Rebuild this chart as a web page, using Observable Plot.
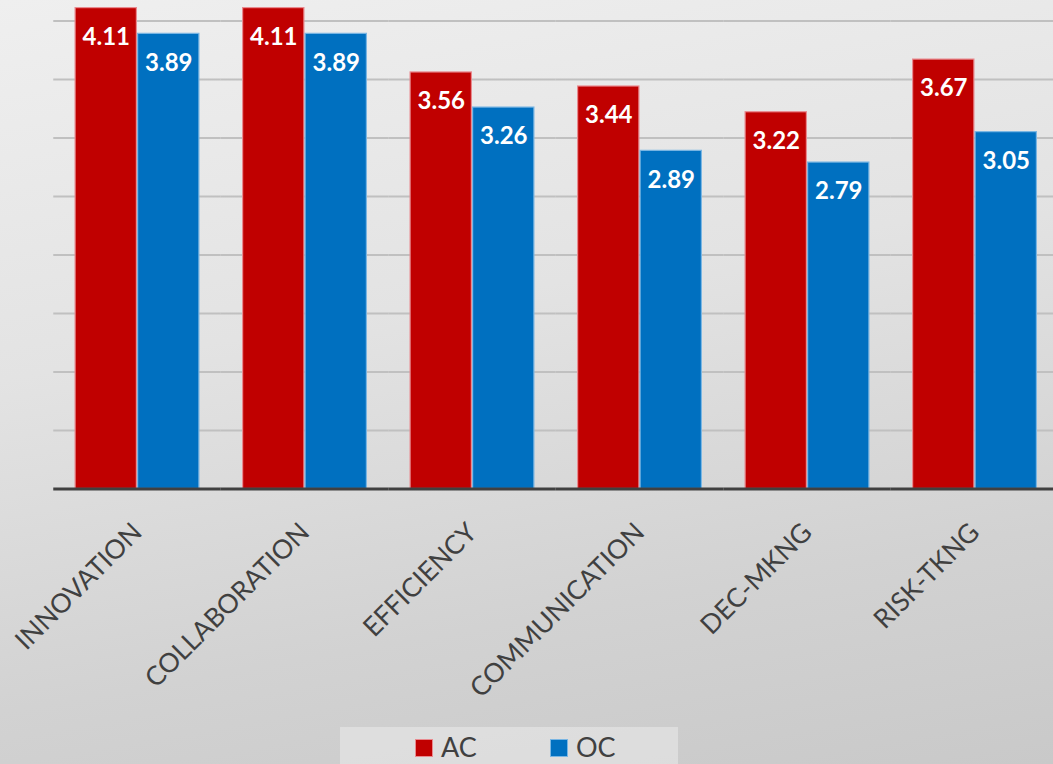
<!DOCTYPE html>
<html>
<head>
<meta charset="utf-8">
<script src="https://cdn.jsdelivr.net/npm/d3@7"></script>
<script src="https://cdn.jsdelivr.net/npm/@observablehq/plot@0.6"></script>
<style>
  html, body { margin: 0; padding: 0; overflow: hidden; }
  body {
    width: 1053px; height: 764px; position: relative;
    background: linear-gradient(170deg, #efefef 0%, #e3e3e3 40%, #d2d2d2 75%, #c9c9c9 100%);
    font-family: Lato, "Open Sans", sans-serif;
  }
  #chart { width: 1053px; overflow: hidden; }
  #chart svg { display: block; background: transparent; max-width: none !important; }
  #legend {
    position: absolute; left: 340px; top: 727px; width: 338px; height: 40px;
    background: rgba(235, 235, 235, 0.55);
  }
  .item { position: absolute; top: 0; height: 40px; display: flex; align-items: flex-start; }
  .sw { width: 16px; height: 16px; margin-top: 12px; border: 1px solid; }
  .lbl { font-size: 27px; color: #404040; margin-left: 8px; line-height: 40px; }
</style>
</head>
<body>
<div id="chart"></div>
<div id="legend"></div>
<script>
// Survey scores by dimension, two groups
const categories = ["INNOVATION", "COLLABORATION", "EFFICIENCY", "COMMUNICATION", "DEC-MKNG", "RISK-TKNG"];
const series = ["AC", "OC"];
const acValues = [4.11, 4.11, 3.56, 3.44, 3.22, 3.67];
const ocValues = [3.89, 3.89, 3.26, 2.89, 2.79, 3.05];
const gridValues = [0.5, 1, 1.5, 2, 2.5, 3, 3.5, 4];

const fills = ["#C00000", "#0070C0"];
const strokes = ["#e98a8f", "#7ab6e3"];

const rows = categories.flatMap((c, i) => [
  {category: c, series: "AC", value: acValues[i]},
  {category: c, series: "OC", value: ocValues[i]}
]);

const chart = Plot.plot({
  width: 1058.25,
  height: 722,
  marginLeft: 53.25,
  marginRight: 0,
  marginTop: 0,
  marginBottom: 233.5,
  style: {background: "transparent", maxWidth: "none"},
  fx: {domain: categories, padding: 0, round: false, axis: null},
  x: {domain: series, paddingInner: 0, paddingOuter: 0.34, round: false, axis: null},
  y: {domain: [0, 4.175], axis: null},
  color: {domain: series, range: fills},
  marks: [
    Plot.ruleY(gridValues, {stroke: "#c0c0c0", strokeWidth: 2}),
    Plot.barY(rows, {
      fx: "category", x: "series", y: "value",
      fill: "series",
      stroke: d => strokes[series.indexOf(d.series)],
      strokeWidth: 1.2,
      insetLeft: 0.6, insetRight: 0.6
    }),
    Plot.ruleY([0], {stroke: "#404040", strokeWidth: 3}),
    Plot.text(rows, {
      fx: "category", x: "series", y: "value",
      text: d => d.value.toFixed(2),
      fill: "white", fontWeight: "bold", fontSize: 24,
      fontFamily: "Lato, sans-serif",
      dy: 29
    }),
    Plot.text(categories, {
      fx: d => d, text: d => d,
      frameAnchor: "bottom",
      rotate: -45, textAnchor: "end", lineAnchor: "bottom",
      dx: 6, dy: 45,
      fontSize: 26.5, fill: "#404040",
      fontFamily: "Lato, sans-serif"
    })
  ]
});
document.getElementById("chart").append(chart);

// Legend below the chart
const legend = document.getElementById("legend");
const lefts = [75, 210];
series.forEach((s, i) => {
  const item = document.createElement("div");
  item.className = "item";
  item.style.left = lefts[i] + "px";
  const sw = document.createElement("div");
  sw.className = "sw";
  sw.style.background = fills[i];
  sw.style.borderColor = strokes[i];
  const lbl = document.createElement("span");
  lbl.className = "lbl";
  lbl.textContent = s;
  item.append(sw, lbl);
  legend.append(item);
});
</script>
</body>
</html>
